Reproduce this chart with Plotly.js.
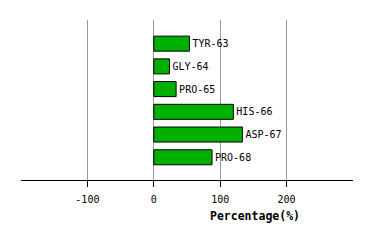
<!DOCTYPE html>
<html><head><meta charset="utf-8">
<script src="https://cdn.plot.ly/plotly-3.0.1.min.js"></script>
<style>html,body{margin:0;padding:0;background:#fff}</style>
</head><body><div id="chart" style="width:374px;height:240px"></div>
<script>
const residues = ["TYR-63","GLY-64","PRO-65","HIS-66","ASP-67","PRO-68"];
const percentages = [53.7, 23.6, 33.6, 119.8, 133.4, 87.7];
const tickValues = [-100, 0, 100, 200];
const tickLabels = ["-100", "0", "100", "200"];
const axisTitle = "Percentage(%)";

const positions = residues.map((_, i) => i);
Plotly.newPlot("chart", [{
  type: "bar",
  orientation: "h",
  x: percentages,
  y: positions,
  text: residues,
  textposition: "outside",
  cliponaxis: false,
  textfont: {family: "DejaVu Sans Mono", size: 10, color: "#000"},
  marker: {color: "#00b000", line: {color: "#000", width: 1}},
  width: 0.66,
  hoverinfo: "none"
}], {
  width: 374, height: 240,
  margin: {l: 21, r: 20.5, t: 20, b: 60, pad: 0},
  paper_bgcolor: "#fff", plot_bgcolor: "#fff",
  showlegend: false,
  xaxis: {
    range: [-200, 300],
    tickvals: tickValues, ticktext: tickLabels,
    showgrid: true, gridcolor: "#999", gridwidth: 1,
    zeroline: false,
    showline: true, linecolor: "#000", linewidth: 1,
    ticks: "outside", ticklen: 6, tickcolor: "#000",
    ticklabelstandoff: 4,
    tickfont: {family: "DejaVu Sans Mono", size: 10, color: "#000"},
    fixedrange: true
  },
  yaxis: {
    range: [6, -1.04],
    showgrid: false, zeroline: false, showline: false,
    showticklabels: false, ticks: "",
    fixedrange: true
  },
  annotations: [{
    text: "<b>" + axisTitle + "</b>",
    xref: "x", yref: "paper", x: 152, y: -0.222,
    xanchor: "center", yanchor: "middle", showarrow: false,
    font: {family: "DejaVu Sans Mono", size: 11.5, color: "#000"}
  }]
}, {displayModeBar: false, staticPlot: true});
</script></body></html>
